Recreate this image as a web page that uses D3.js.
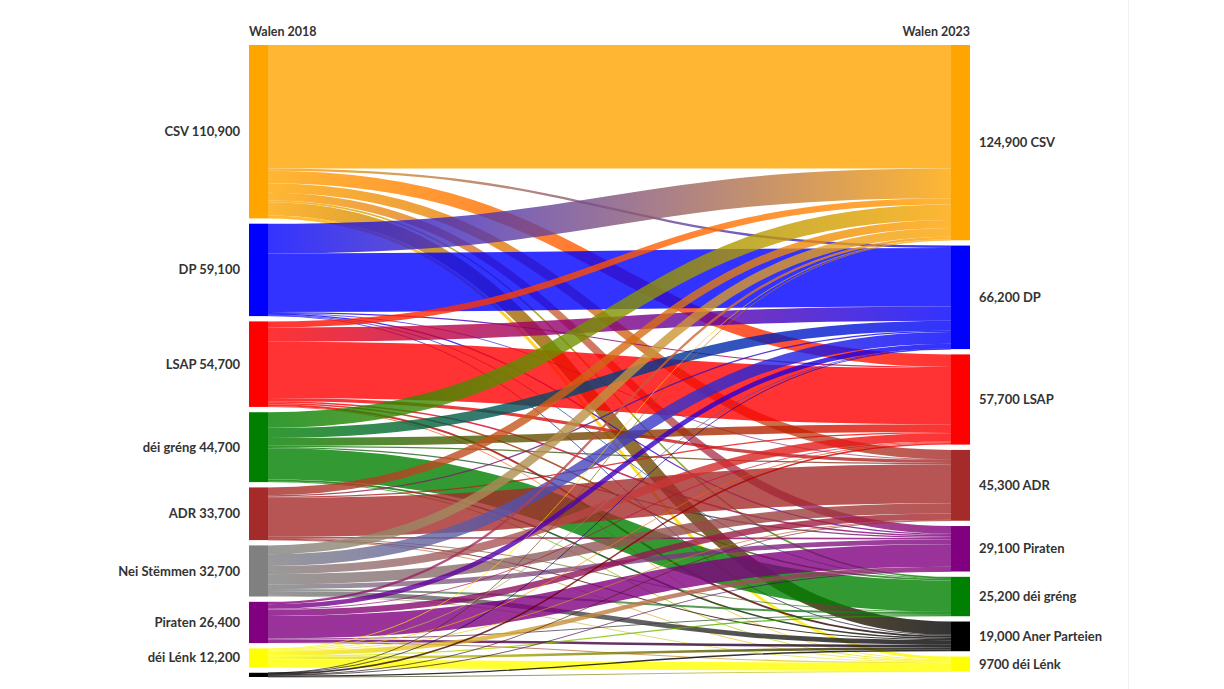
<!DOCTYPE html>
<html>
<head>
<meta charset="utf-8">
<script src="https://cdn.jsdelivr.net/npm/d3@7"></script>
<style>
  html, body { margin: 0; padding: 0; background: #ffffff; }
  svg { display: block; }
  text { font-family: "Lato", "Open Sans", sans-serif; font-weight: 700; fill: #333333; }
</style>
</head>
<body>
<svg id="chart" width="1224" height="689"></svg>
<script>
// ---- data ----
const leftTitle = "Walen 2018";
const rightTitle = "Walen 2023";
const leftNames = ["CSV", "DP", "LSAP", "déi gréng", "ADR", "Nei Stëmmen", "Piraten", "déi Lénk", "Aner Parteien"];
const leftValues = [110900, 59100, 54700, 44700, 33700, 32700, 26400, 12200, 2700];
const rightNames = ["CSV", "DP", "LSAP", "ADR", "Piraten", "déi gréng", "Aner Parteien", "déi Lénk"];
const rightValues = [124900, 66200, 57700, 45300, 29100, 25200, 19000, 9700];
// flows: one row per 2018 node, columns in rightNames order
const flowCSV   = [79000, 1500, 8000, 6000, 5000, 1000, 8500, 1900];
const flowDP    = [19000, 37500, 700, 300, 800, 300, 500, 0];
const flowLSAP  = [4000, 9000, 36000, 2000, 1000, 1000, 1200, 500];
const flowGreng = [10000, 6500, 5000, 800, 800, 20000, 1000, 600];
const flowADR   = [5000, 800, 800, 25000, 1000, 200, 700, 200];
const flowNei   = [5700, 7500, 5200, 6500, 3000, 1300, 3000, 500];
const flowPir   = [1500, 3000, 500, 4000, 14500, 600, 1600, 700];
const flowLenk  = [500, 300, 500, 500, 2800, 800, 1600, 5200];
const flowAner  = [200, 100, 1000, 200, 200, 0, 900, 100];
const flows = [flowCSV, flowDP, flowLSAP, flowGreng, flowADR, flowNei, flowPir, flowLenk, flowAner];
const partyColors = {
  "CSV": "#ffa500", "DP": "#0000ff", "LSAP": "#ff0000", "déi gréng": "#008000",
  "ADR": "#a52a2a", "Nei Stëmmen": "#808080", "Piraten": "#800080",
  "déi Lénk": "#ffff00", "Aner Parteien": "#000000"
};

// ---- layout ----
const svg = d3.select("#chart");
const yTop = 45, yBottom = 677, pad = 5.3;
const xLeft = 249, xRight = 951, nodeW = 19;
const total = d3.sum(leftValues);
const hScale = d3.scaleLinear().domain([0, total]).range([0, (yBottom - yTop) - pad * (leftNames.length - 1)]);
const fmt = v => v >= 10000 ? d3.format(",")(v) : String(v);

function stack(values) {
  let y = yTop;
  return values.map(v => { const n = { y0: y, y1: y + hScale(v) }; y = n.y1 + pad; return n; });
}
const leftNodes = stack(leftValues);
const rightNodes = stack(rightValues);

// link positions
const links = [];
const srcOff = leftNodes.map(n => n.y0);
const tgtOff = rightNodes.map(n => n.y0);
for (let s = 0; s < flows.length; s++) {
  for (let t = 0; t < rightNames.length; t++) {
    const v = flows[s][t];
    const w = hScale(v);
    links.push({ s, t, v, w, ys: srcOff[s] + w / 2 });
    srcOff[s] += w;
  }
}
for (let t = 0; t < rightNames.length; t++) {
  for (let s = 0; s < flows.length; s++) {
    const l = links.find(d => d.s === s && d.t === t);
    l.yt = tgtOff[t] + l.w / 2;
    tgtOff[t] += l.w;
  }
}

// faint page edge line
svg.append("line").attr("x1", 1128.5).attr("x2", 1128.5).attr("y1", 0).attr("y2", 689)
  .attr("stroke", "#f0f0f0").attr("stroke-width", 1);

const defs = svg.append("defs");
const linkGen = d3.linkHorizontal();
const gLinks = svg.append("g");
links.filter(l => l.v > 0).forEach((l, i) => {
  const id = "g" + i;
  const grad = defs.append("linearGradient").attr("id", id)
    .attr("gradientUnits", "userSpaceOnUse")
    .attr("x1", xLeft + nodeW).attr("x2", xRight).attr("y1", 0).attr("y2", 0);
  grad.append("stop").attr("offset", "0%").attr("stop-color", partyColors[leftNames[l.s]]);
  grad.append("stop").attr("offset", "100%").attr("stop-color", partyColors[rightNames[l.t]]);
  gLinks.append("path")
    .attr("d", linkGen({ source: [xLeft + nodeW, l.ys], target: [xRight, l.yt] }))
    .attr("fill", "none")
    .attr("stroke", `url(#${id})`)
    .attr("stroke-opacity", 0.8)
    .attr("stroke-width", Math.max(l.w, 0.8));
});

// nodes
svg.append("g").selectAll("rect").data(leftNodes).join("rect")
  .attr("x", xLeft).attr("width", nodeW)
  .attr("y", d => d.y0).attr("height", d => d.y1 - d.y0)
  .attr("fill", (d, i) => partyColors[leftNames[i]]);
svg.append("g").selectAll("rect").data(rightNodes).join("rect")
  .attr("x", xRight).attr("width", nodeW)
  .attr("y", d => d.y0).attr("height", d => d.y1 - d.y0)
  .attr("fill", (d, i) => partyColors[rightNames[i]]);

// labels
svg.append("g").selectAll("text").data(leftNodes.filter(d => d.y1 - d.y0 > 8)).join("text")
  .attr("x", 240).attr("y", d => (d.y0 + d.y1) / 2).attr("dy", "0.35em")
  .attr("text-anchor", "end").attr("font-size", 13)
  .text((d, i) => leftNames[i] + " " + fmt(leftValues[i]));
svg.append("g").selectAll("text").data(rightNodes).join("text")
  .attr("x", 979).attr("y", d => (d.y0 + d.y1) / 2).attr("dy", "0.35em")
  .attr("text-anchor", "start").attr("font-size", 13)
  .text((d, i) => fmt(rightValues[i]) + " " + rightNames[i]);

svg.append("text").attr("x", xLeft).attr("y", 36).attr("font-size", 12.5).text(leftTitle);
svg.append("text").attr("x", xRight + nodeW).attr("y", 36).attr("text-anchor", "end").attr("font-size", 12.5).text(rightTitle);
</script>
</body>
</html>
